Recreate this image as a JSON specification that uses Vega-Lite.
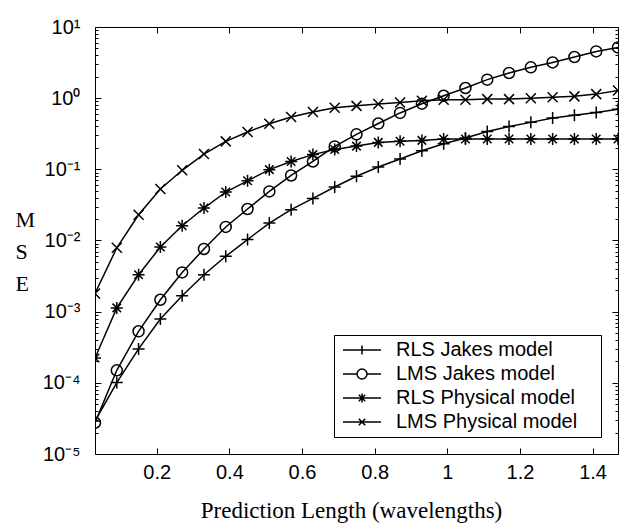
{
  "$schema": "https://vega.github.io/schema/vega-lite/v6.json",
  "width": 523,
  "height": 427,
  "autosize": {"type": "none"},
  "padding": {"left": 95, "top": 27, "right": 8, "bottom": 69},
  "background": "white",
  "config": {
    "view": {"stroke": "black", "strokeWidth": 1},
    "axis": {"labelColor": "black", "titleColor": "black", "labelFont": "Liberation Sans", "titleFont": "Liberation Serif", "titleFontWeight": "normal"}
  },
  "data": {"values": [
    {"x":0.03,"mse":2.9e-5,"s":"RLS Jakes model"},{"x":0.09,"mse":1.01e-4,"s":"RLS Jakes model"},{"x":0.15,"mse":3.0e-4,"s":"RLS Jakes model"},{"x":0.21,"mse":7.9e-4,"s":"RLS Jakes model"},{"x":0.27,"mse":1.67e-3,"s":"RLS Jakes model"},{"x":0.33,"mse":3.3e-3,"s":"RLS Jakes model"},{"x":0.39,"mse":6.0e-3,"s":"RLS Jakes model"},{"x":0.45,"mse":0.0103,"s":"RLS Jakes model"},{"x":0.51,"mse":0.0176,"s":"RLS Jakes model"},{"x":0.57,"mse":0.0271,"s":"RLS Jakes model"},{"x":0.63,"mse":0.039,"s":"RLS Jakes model"},{"x":0.69,"mse":0.0565,"s":"RLS Jakes model"},{"x":0.75,"mse":0.08,"s":"RLS Jakes model"},{"x":0.81,"mse":0.108,"s":"RLS Jakes model"},{"x":0.87,"mse":0.14,"s":"RLS Jakes model"},{"x":0.93,"mse":0.182,"s":"RLS Jakes model"},{"x":0.99,"mse":0.229,"s":"RLS Jakes model"},{"x":1.05,"mse":0.275,"s":"RLS Jakes model"},{"x":1.11,"mse":0.341,"s":"RLS Jakes model"},{"x":1.17,"mse":0.401,"s":"RLS Jakes model"},{"x":1.23,"mse":0.457,"s":"RLS Jakes model"},{"x":1.29,"mse":0.527,"s":"RLS Jakes model"},{"x":1.35,"mse":0.575,"s":"RLS Jakes model"},{"x":1.41,"mse":0.63,"s":"RLS Jakes model"},{"x":1.47,"mse":0.70,"s":"RLS Jakes model"},
    {"x":0.03,"mse":2.75e-5,"s":"LMS Jakes model"},{"x":0.09,"mse":1.5e-4,"s":"LMS Jakes model"},{"x":0.15,"mse":5.3e-4,"s":"LMS Jakes model"},{"x":0.21,"mse":1.47e-3,"s":"LMS Jakes model"},{"x":0.27,"mse":3.56e-3,"s":"LMS Jakes model"},{"x":0.33,"mse":7.6e-3,"s":"LMS Jakes model"},{"x":0.39,"mse":0.0155,"s":"LMS Jakes model"},{"x":0.45,"mse":0.0277,"s":"LMS Jakes model"},{"x":0.51,"mse":0.049,"s":"LMS Jakes model"},{"x":0.57,"mse":0.082,"s":"LMS Jakes model"},{"x":0.63,"mse":0.129,"s":"LMS Jakes model"},{"x":0.69,"mse":0.21,"s":"LMS Jakes model"},{"x":0.75,"mse":0.31,"s":"LMS Jakes model"},{"x":0.81,"mse":0.44,"s":"LMS Jakes model"},{"x":0.87,"mse":0.62,"s":"LMS Jakes model"},{"x":0.93,"mse":0.836,"s":"LMS Jakes model"},{"x":0.99,"mse":1.08,"s":"LMS Jakes model"},{"x":1.05,"mse":1.39,"s":"LMS Jakes model"},{"x":1.11,"mse":1.82,"s":"LMS Jakes model"},{"x":1.17,"mse":2.26,"s":"LMS Jakes model"},{"x":1.23,"mse":2.71,"s":"LMS Jakes model"},{"x":1.29,"mse":3.18,"s":"LMS Jakes model"},{"x":1.35,"mse":3.79,"s":"LMS Jakes model"},{"x":1.41,"mse":4.54,"s":"LMS Jakes model"},{"x":1.47,"mse":5.17,"s":"LMS Jakes model"},
    {"x":0.03,"mse":2.23e-4,"s":"RLS Physical model"},{"x":0.09,"mse":1.13e-3,"s":"RLS Physical model"},{"x":0.15,"mse":3.3e-3,"s":"RLS Physical model"},{"x":0.21,"mse":8.1e-3,"s":"RLS Physical model"},{"x":0.27,"mse":0.0161,"s":"RLS Physical model"},{"x":0.33,"mse":0.0286,"s":"RLS Physical model"},{"x":0.39,"mse":0.048,"s":"RLS Physical model"},{"x":0.45,"mse":0.069,"s":"RLS Physical model"},{"x":0.51,"mse":0.099,"s":"RLS Physical model"},{"x":0.57,"mse":0.129,"s":"RLS Physical model"},{"x":0.63,"mse":0.161,"s":"RLS Physical model"},{"x":0.69,"mse":0.19,"s":"RLS Physical model"},{"x":0.75,"mse":0.212,"s":"RLS Physical model"},{"x":0.81,"mse":0.239,"s":"RLS Physical model"},{"x":0.87,"mse":0.248,"s":"RLS Physical model"},{"x":0.93,"mse":0.255,"s":"RLS Physical model"},{"x":0.99,"mse":0.267,"s":"RLS Physical model"},{"x":1.05,"mse":0.267,"s":"RLS Physical model"},{"x":1.11,"mse":0.267,"s":"RLS Physical model"},{"x":1.17,"mse":0.267,"s":"RLS Physical model"},{"x":1.23,"mse":0.267,"s":"RLS Physical model"},{"x":1.29,"mse":0.267,"s":"RLS Physical model"},{"x":1.35,"mse":0.267,"s":"RLS Physical model"},{"x":1.41,"mse":0.267,"s":"RLS Physical model"},{"x":1.47,"mse":0.267,"s":"RLS Physical model"},
    {"x":0.03,"mse":1.8e-3,"s":"LMS Physical model"},{"x":0.09,"mse":7.9e-3,"s":"LMS Physical model"},{"x":0.15,"mse":0.023,"s":"LMS Physical model"},{"x":0.21,"mse":0.053,"s":"LMS Physical model"},{"x":0.27,"mse":0.097,"s":"LMS Physical model"},{"x":0.33,"mse":0.164,"s":"LMS Physical model"},{"x":0.39,"mse":0.247,"s":"LMS Physical model"},{"x":0.45,"mse":0.335,"s":"LMS Physical model"},{"x":0.51,"mse":0.438,"s":"LMS Physical model"},{"x":0.57,"mse":0.543,"s":"LMS Physical model"},{"x":0.63,"mse":0.64,"s":"LMS Physical model"},{"x":0.69,"mse":0.735,"s":"LMS Physical model"},{"x":0.75,"mse":0.78,"s":"LMS Physical model"},{"x":0.81,"mse":0.83,"s":"LMS Physical model"},{"x":0.87,"mse":0.87,"s":"LMS Physical model"},{"x":0.93,"mse":0.92,"s":"LMS Physical model"},{"x":0.99,"mse":0.95,"s":"LMS Physical model"},{"x":1.05,"mse":0.95,"s":"LMS Physical model"},{"x":1.11,"mse":0.97,"s":"LMS Physical model"},{"x":1.17,"mse":0.97,"s":"LMS Physical model"},{"x":1.23,"mse":1.0,"s":"LMS Physical model"},{"x":1.29,"mse":1.03,"s":"LMS Physical model"},{"x":1.35,"mse":1.06,"s":"LMS Physical model"},{"x":1.41,"mse":1.14,"s":"LMS Physical model"},{"x":1.47,"mse":1.28,"s":"LMS Physical model"}
  ]},
  "encoding": {
    "x": {
      "field": "x", "type": "quantitative",
      "scale": {"domain": [0.03, 1.47], "nice": false, "zero": false},
      "axis": {
        "values": [0.2, 0.4, 0.6, 0.8, 1, 1.2, 1.4],
        "format": "~g",
        "ticks": false, "domain": false,
        "grid": true, "gridColor": "black", "gridOpacity": 1, "gridWidth": 1, "gridDash": [6, 415, 6],
        "labelFontSize": 20, "labelPadding": 8, "labelFlush": false, "labelOverlap": false,
        "title": "Prediction Length (wavelengths)", "titleFontSize": 23,
        "titleBaseline": "alphabetic", "titleAlign": "center", "titleX": 256, "titleY": 63
      }
    },
    "y": {
      "field": "mse", "type": "quantitative",
      "scale": {"type": "log", "domain": [1e-5, 10], "nice": false},
      "axis": {
        "values": [1e-5,2e-5,3e-5,4e-5,5e-5,6e-5,7e-5,8e-5,9e-5,1e-4,2e-4,3e-4,4e-4,5e-4,6e-4,7e-4,8e-4,9e-4,0.001,0.002,0.003,0.004,0.005,0.006,0.007,0.008,0.009,0.01,0.02,0.03,0.04,0.05,0.06,0.07,0.08,0.09,0.1,0.2,0.3,0.4,0.5,0.6,0.7,0.8,0.9,1,2,3,4,5,6,7,8,9,10],
        "ticks": false, "domain": false,
        "grid": true, "gridColor": "black", "gridOpacity": 1, "gridWidth": 1,
        "gridDash": {"condition": {"test": "abs(log(datum.value)/LN10 - round(log(datum.value)/LN10)) < 0.001", "value": [6, 511, 6]}, "value": [3, 517, 3]},
        "labelExpr": "abs(log(datum.value)/LN10 - round(log(datum.value)/LN10)) < 0.001 ? ['10⁻⁵','10⁻⁴','10⁻³','10⁻²','10⁻¹','10⁰','10¹'][round(log(datum.value)/LN10) + 5] : ''",
        "labelFontSize": 20, "labelPadding": 15, "labelOverlap": false, "labelFlush": false, "labelBaseline": "middle",
        "title": ["M", "S", "E"], "titleFontSize": 22, "titleAngle": 0, "titleAlign": "left",
        "titleBaseline": "alphabetic", "titleX": -80, "titleY": 199, "titleLineHeight": 32
      }
    }
  },
  "resolve": {"scale": {"shape": "independent"}, "legend": {"shape": "independent"}},
  "layer": [
    {
      "mark": {"type": "line", "color": "black", "strokeWidth": 1.5, "clip": true},
      "encoding": {"detail": {"field": "s", "type": "nominal"}}
    },
    {
      "mark": {"type": "point", "filled": false, "color": "black", "strokeWidth": 1.5, "size": 100, "opacity": 1, "clip": true},
      "encoding": {
        "shape": {
          "field": "s", "type": "nominal",
          "scale": {
            "domain": ["RLS Jakes model", "LMS Jakes model", "RLS Physical model", "LMS Physical model"],
            "range": [
              "M-1.2,0H1.2M0,-1.2V1.2",
              "M-1.1,0A1.1,1.1,0,1,0,1.1,0A1.1,1.1,0,1,0,-1.1,0",
              "M-1.2,0H1.2M0,-1.2V1.2M-0.85,-0.85L0.85,0.85M-0.85,0.85L0.85,-0.85",
              "M-1,-1L1,1M-1,1L1,-1"
            ]
          },
          "legend": null
        }
      }
    },
    {
      "mark": {"type": "point", "filled": false, "color": "black", "strokeWidth": 1.5, "size": 100, "opacity": 0, "clip": true},
      "encoding": {
        "shape": {
          "field": "s", "type": "nominal",
          "scale": {
            "domain": ["RLS Jakes model", "LMS Jakes model", "RLS Physical model", "LMS Physical model"],
            "range": [
              "M-5.2,0M-3.8,0H3.8M0,-0.9V0.9M46.2,0",
              "M-5.2,0M-3.8,0H-1M1,0H3.8M-1,0A1,1,0,1,0,1,0A1,1,0,1,0,-1,0M46.2,0",
              "M-5.2,0M-3.8,0H3.8M0,-0.9V0.9M-0.65,-0.65L0.65,0.65M-0.65,0.65L0.65,-0.65M46.2,0",
              "M-5.2,0M-3.8,0H3.8M-0.65,-0.65L0.65,0.65M-0.65,0.65L0.65,-0.65M46.2,0"
            ]
          },
          "legend": {
            "title": null, "orient": "bottom-right", "offset": 17, "padding": 5,
            "strokeColor": "black", "fillColor": "white", "cornerRadius": 0,
            "labelFont": "Liberation Sans", "labelFontSize": 20, "labelColor": "black", "labelLimit": 400,
            "symbolSize": 100, "symbolStrokeWidth": 1.5, "symbolStrokeColor": "black", "symbolFillColor": "transparent", "symbolOpacity": 1,
            "symbolOffset": 13, "labelOffset": 24, "rowPadding": 4
          }
        }
      }
    }
  ]
}
